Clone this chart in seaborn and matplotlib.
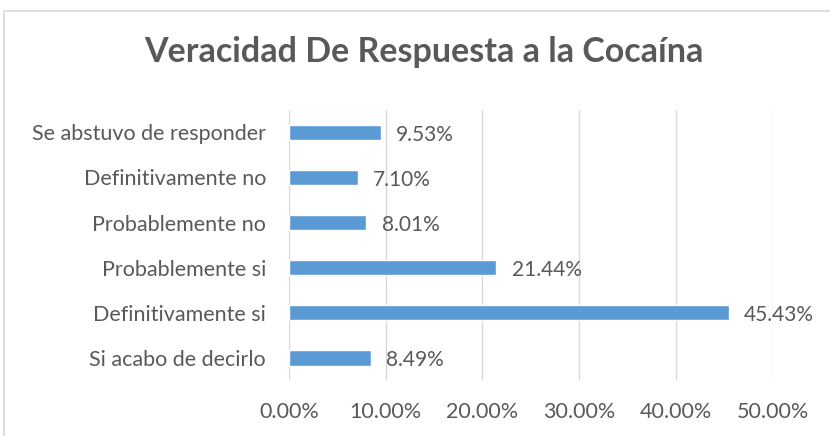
import matplotlib
matplotlib.use("Agg")
import matplotlib.pyplot as plt
import seaborn as sns
import pandas as pd
from matplotlib.patches import Rectangle
from matplotlib.ticker import FuncFormatter

# Données
categories = ["Se abstuvo de responder", "Definitivamente no", "Probablemente no",
              "Probablemente si", "Definitivamente si", "Si acabo de decirlo"]
valeurs = [0.0953, 0.0710, 0.0801, 0.2144, 0.4543, 0.0849]
etiquettes = ["9.53%", "7.10%", "8.01%", "21.44%", "45.43%", "8.49%"]

df = pd.DataFrame({"cat": categories, "val": valeurs})

sns.set_style("white")
plt.rcParams["font.family"] = ["Lato", "DejaVu Sans"]
gris = "#595959"

fig = plt.figure(figsize=(8.3, 4.36), dpi=100)
ax = fig.add_axes([0.348, 0.128, 0.583, 0.62])

sns.barplot(data=df, x="val", y="cat", color="#5B9BD5", width=0.35,
            saturation=1, ax=ax, zorder=3)

for i, (v, t) in enumerate(zip(valeurs, etiquettes)):
    ax.annotate(t, (v, i), xytext=(11, -2), textcoords="offset points",
                va="center", ha="left", fontsize=15, color=gris)

ax.set_xlim(0, 0.5)
ax.set_xticks([0, 0.1, 0.2, 0.3, 0.4, 0.5])
ax.xaxis.set_major_formatter(FuncFormatter(lambda x, p: f"{x*100:.2f}%"))
ax.grid(axis="x", color="#D9D9D9", linewidth=1, zorder=0)
ax.set_xlabel("")
ax.set_ylabel("")
for s in ax.spines.values():
    s.set_visible(False)
ax.tick_params(axis="both", length=0, labelsize=15.5, colors=gris)
ax.tick_params(axis="x", pad=16)
ax.tick_params(axis="y", pad=16.5)

fig.text(0.511, 0.88, "Veracidad De Respuesta a la Cocaína", ha="center", va="center",
         fontsize=24.5, fontweight="bold", color=gris)

fig.patches.append(Rectangle((0.005, -0.01), 1.1, 0.985, transform=fig.transFigure,
                             fill=False, edgecolor="#D9D9D9", linewidth=1.2))

fig.savefig("out.png", dpi=100)
